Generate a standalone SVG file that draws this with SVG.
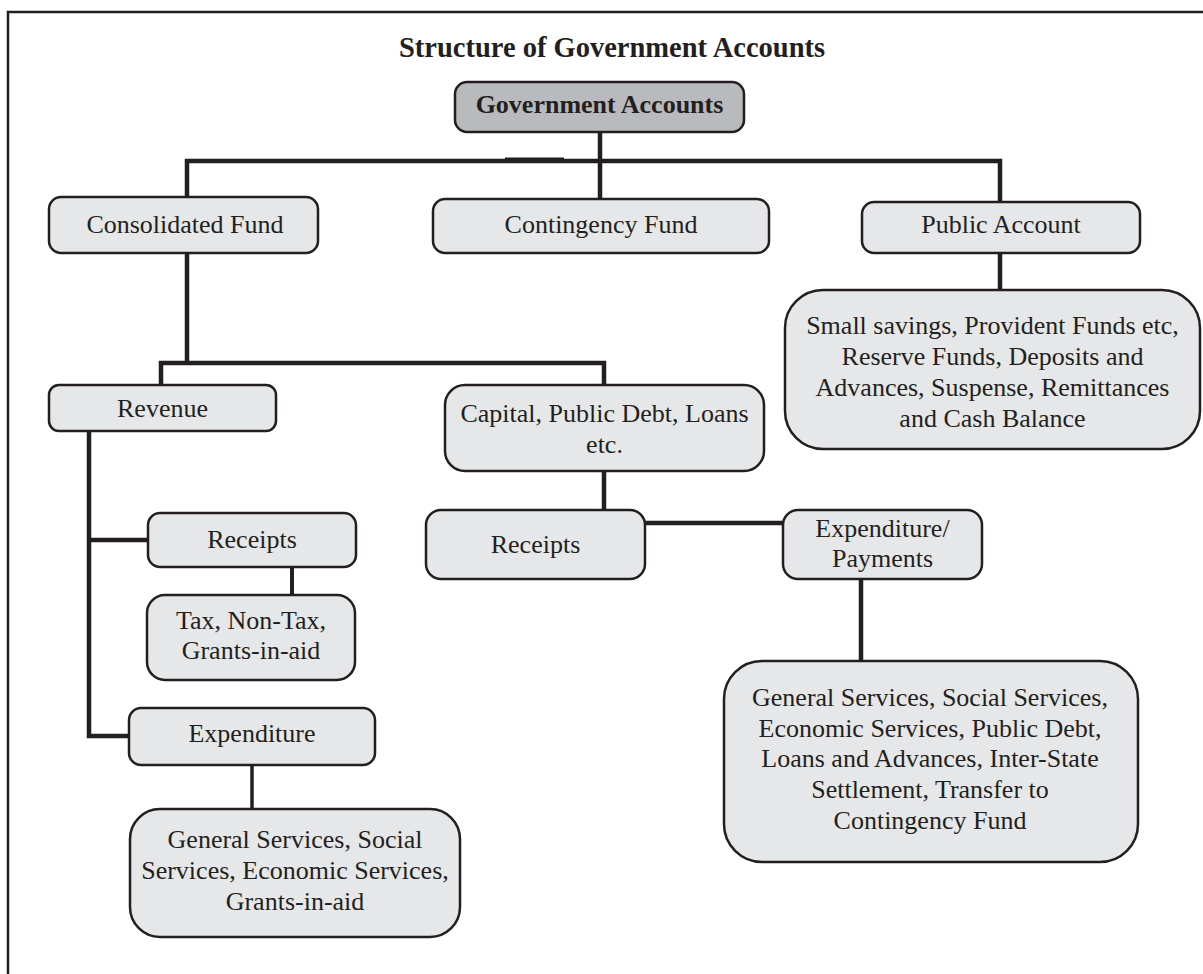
<svg xmlns="http://www.w3.org/2000/svg" width="1203" height="974" viewBox="0 0 1203 974">
<style>
.box{fill:#e6e7e8;stroke:#231f20;stroke-width:2.5}
.root{fill:#b9babd;stroke:#231f20;stroke-width:2.5}
.t{font-family:"Liberation Serif","Times New Roman",serif;font-size:26px;fill:#231f20;text-anchor:middle}
.b{font-weight:bold}
.c{fill:none;stroke:#231f20;stroke-width:4.5;stroke-linecap:butt;stroke-linejoin:miter}
</style>
<rect x="0" y="0" width="1203" height="974" fill="#ffffff"/>
<path d="M8,974 V12 H1203" fill="none" stroke="#231f20" stroke-width="2.5"/>
<text class="t b" x="612" y="57" style="font-size:28.5px">Structure of Government Accounts</text>
<g id="connectors">
<path class="c" d="M187,197 V161 H1000 V202"/>
<path class="c" d="M600,132 V199"/>
<path class="c" d="M505,160 H564" style="stroke-width:5"/>
<path class="c" d="M187,253 V363 M161,385 V363 H604 V385"/>
<path class="c" d="M1000,253 V290"/>
<path class="c" d="M89,431 V736 H129"/>
<path class="c" d="M89,540 H148"/>
<path class="c" d="M292,567 V595" style="stroke-width:4"/>
<path class="c" d="M252,765 V809" style="stroke-width:3.5"/>
<path class="c" d="M604,471 V510"/>
<path class="c" d="M645,523 H783"/>
<path class="c" d="M861,579 V661"/>
</g>
<g id="gov">
<rect class="root" x="455" y="82" width="289" height="50" rx="12"/>
<text class="t b" x="599.5" y="113">Government Accounts</text>
</g>
<g id="consolidated">
<rect class="box" x="49" y="197" width="269" height="56" rx="12"/>
<text class="t" x="185" y="233">Consolidated Fund</text>
</g>
<g id="contingency">
<rect class="box" x="433" y="199" width="336" height="54" rx="12"/>
<text class="t" x="601" y="233">Contingency Fund</text>
</g>
<g id="public">
<rect class="box" x="862" y="202" width="278" height="51" rx="12"/>
<text class="t" x="1001" y="233">Public Account</text>
</g>
<g id="publicdetail">
<rect class="box" x="785" y="290" width="415" height="159" rx="38"/>
<text class="t" x="992.5" y="334">Small savings, Provident Funds etc,</text>
<text class="t" x="992.5" y="365">Reserve Funds, Deposits and</text>
<text class="t" x="992.5" y="396">Advances, Suspense, Remittances</text>
<text class="t" x="992.5" y="427">and Cash Balance</text>
</g>
<g id="revenue">
<rect class="box" x="49" y="385" width="227" height="46" rx="10"/>
<text class="t" x="162.5" y="417">Revenue</text>
</g>
<g id="capital">
<rect class="box" x="445" y="385" width="319" height="86" rx="20"/>
<text class="t" x="604.5" y="422">Capital, Public Debt, Loans</text>
<text class="t" x="604.5" y="453">etc.</text>
</g>
<g id="receipts1">
<rect class="box" x="148" y="513" width="208" height="54" rx="12"/>
<text class="t" x="252" y="548">Receipts</text>
</g>
<g id="taxes">
<rect class="box" x="147" y="595" width="208" height="85" rx="18"/>
<text class="t" x="251" y="629">Tax, Non-Tax,</text>
<text class="t" x="251" y="659">Grants-in-aid</text>
</g>
<g id="expenditure1">
<rect class="box" x="129" y="708" width="246" height="57" rx="12"/>
<text class="t" x="252" y="742">Expenditure</text>
</g>
<g id="expdetail">
<rect class="box" x="130" y="809" width="330" height="128" rx="30"/>
<text class="t" x="295" y="848">General Services, Social</text>
<text class="t" x="295" y="879">Services, Economic Services,</text>
<text class="t" x="295" y="910">Grants-in-aid</text>
</g>
<g id="receipts2">
<rect class="box" x="426" y="510" width="219" height="69" rx="15"/>
<text class="t" x="535.5" y="553">Receipts</text>
</g>
<g id="expenditure2">
<rect class="box" x="783" y="510" width="199" height="69" rx="15"/>
<text class="t" x="882.5" y="537">Expenditure/</text>
<text class="t" x="882.5" y="567">Payments</text>
</g>
<g id="paydetail">
<rect class="box" x="724" y="661" width="414" height="201" rx="38"/>
<text class="t" x="930" y="706">General Services, Social Services,</text>
<text class="t" x="930" y="737">Economic Services, Public Debt,</text>
<text class="t" x="930" y="767">Loans and Advances, Inter-State</text>
<text class="t" x="930" y="798">Settlement, Transfer to</text>
<text class="t" x="930" y="829">Contingency Fund</text>
</g>
</svg>
